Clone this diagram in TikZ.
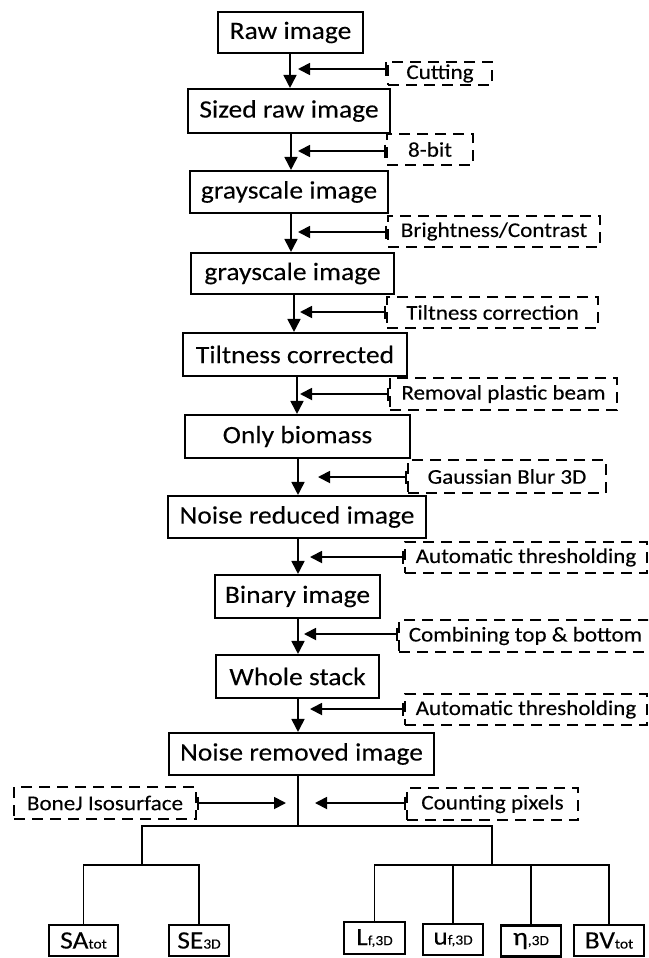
\documentclass[tikz,border=0pt]{standalone}
\usepackage{fontspec}
\setmainfont{Carlito}[FakeStretch=1.1,FakeBold=0.15]
\usetikzlibrary{arrows.meta}
\newcommand\MainF{\fontsize{25}{29}\selectfont}
\newcommand\DashF{\fontsize{21}{25}\selectfont}
\newcommand\SubF{\fontsize{14}{16}\selectfont}
\tikzset{
  mbox/.style={draw, line width=2.1pt, inner sep=0pt, font=\MainF},
  dbox/.style={draw, dash pattern=on 11pt off 7pt, line width=2.2pt, inner sep=0pt, font=\DashF},
  rbox/.style={draw, line width=2.1pt, inner sep=0pt, font=\MainF, minimum height=31pt},
  arr/.style={line width=1.8pt, -{Triangle[length=13pt,width=13pt]}},
  sarr/.style={line width=1.8pt, {Bar[width=13pt,line width=2pt]}-{Triangle[length=12pt,width=12pt]}},
  tree/.style={line width=1.6pt}
}
\begin{document}
\begin{tikzpicture}[x=1pt,y=-1pt]
\useasboundingbox (0,0) rectangle (648,958);
\clip (0,0) rectangle (648,958);
% main boxes
\node[mbox, minimum width=145pt, minimum height=41pt] (raw)   at (290.5,32.5) {Raw image};
\node[mbox, minimum width=202pt, minimum height=44pt] (sized) at (289,111)    {Sized raw image};
\node[mbox, minimum width=198pt, minimum height=42pt] (gray1) at (289,192)    {grayscale image};
\node[mbox, minimum width=203pt, minimum height=41pt] (gray2) at (292.5,273.5){grayscale image};
\node[mbox, minimum width=224pt, minimum height=43pt] (tcorr) at (295,354.5)  {Tiltness corrected};
\node[mbox, minimum width=225pt, minimum height=43pt] (bio)   at (297.5,436.5){Only biomass};
\node[mbox, minimum width=258pt, minimum height=42pt] (nred)  at (297,517)    {Noise reduced image};
\node[mbox, minimum width=165pt, minimum height=43pt] (bin)   at (297.5,596.5){Binary image};
\node[mbox, minimum width=163pt, minimum height=43pt] (whole) at (297.5,676.5){Whole stack};
\node[mbox, minimum width=265pt, minimum height=42pt] (nrem)  at (301.5,754)  {Noise removed image};
% dashed boxes
\node[dbox, minimum width=104pt, minimum height=23pt] (cut)    at (440,73.5)   {Cutting};
\node[dbox, minimum width=86pt,  minimum height=31pt] (bit)    at (430,149.5)  {8-bit};
\node[dbox, minimum width=212pt, minimum height=31pt] (bright) at (494,231.5)  {Brightness/Contrast};
\node[dbox, minimum width=211pt, minimum height=31pt] (tiltc)  at (492.5,312.5){Tiltness correction};
\node[dbox, minimum width=227pt, minimum height=32pt] (remv)   at (503.5,394)  {Removal plastic beam};
\node[dbox, minimum width=198pt, minimum height=33pt] (gauss)  at (507,476.5)  {Gaussian Blur 3D};
\node[dbox, minimum width=242pt, minimum height=31pt] (autoa)  at (526,557.5)  {Automatic thresholding};
\node[dbox, minimum width=253pt, minimum height=32pt] (comb)   at (525.5,636)  {Combining top \& bottom};
\node[dbox, minimum width=242pt, minimum height=31pt] (autob)  at (526,709.5)  {Automatic thresholding};
\node[dbox, minimum width=182pt, minimum height=32pt] (bonej)  at (105,803)    {BoneJ Isosurface};
\node[dbox, minimum width=171pt, minimum height=32pt] (count)  at (492.5,804)  {Counting pixels};
% result boxes
\node[rbox, minimum width=69pt] (sa)  at (83.5,940.5) {SA{\SubF tot}};
\node[rbox, minimum width=60pt] (se)  at (199,940.5)  {SE{\SubF 3D}};
\node[rbox, minimum width=61pt, minimum height=32pt] (lf)  at (374.5,938) {L{\SubF f,3D}};
\node[rbox, minimum width=60pt] (uf)  at (453,939.5)  {u{\SubF f,3D}};
\node[rbox, minimum width=60pt] (eta) at (531,941)    {η{\SubF ,3D}};
\node[rbox, minimum width=70pt] (bv)  at (609,940.5)  {BV{\SubF tot}};
% main arrows
\coordinate (m1) at (290,0);
\coordinate (m2) at (291,0);
\coordinate (m3) at (291,0);
\coordinate (m4) at (294,0);
\coordinate (m5) at (297,0);
\coordinate (m6) at (298,0);
\draw[arr] (raw.south -| m1)   -- (sized.north -| m1);
\draw[arr] (sized.south -| m2) -- (gray1.north -| m2);
\draw[arr] (gray1.south -| m3) -- (gray2.north -| m3);
\draw[arr] (gray2.south -| m4) -- (tcorr.north -| m4);
\draw[arr] (tcorr.south -| m5) -- (bio.north -| m5);
\draw[arr] (bio.south -| m6)   -- (nred.north -| m6);
\draw[arr] (nred.south -| m6)  -- (bin.north -| m6);
\draw[arr] (bin.south -| m6)   -- (whole.north -| m6);
\draw[arr] (whole.south -| m6) -- (nrem.north -| m6);
% side arrows
\coordinate (t1) at (298,69);
\coordinate (t2) at (298,151);
\coordinate (t3) at (298,232);
\coordinate (t4) at (300,312);
\coordinate (t5) at (300,394);
\coordinate (t6) at (318,477);
\coordinate (t7) at (310,557);
\coordinate (t8) at (304,634);
\coordinate (t9) at (310,709);
\coordinate (t10) at (286,803);
\coordinate (t11) at (315,803);
\draw[sarr] (cut.west |- t1) -- (t1);
\draw[sarr] (bit.west |- t2) -- (t2);
\draw[sarr] (bright.west |- t3) -- (t3);
\draw[sarr] (tiltc.west |- t4) -- (t4);
\draw[sarr] (remv.west |- t5) -- (t5);
\draw[sarr] (gauss.west |- t6) -- (t6);
\draw[sarr] (autoa.west |- t7) -- (t7);
\draw[sarr] (comb.west |- t8) -- (t8);
\draw[sarr] (autob.west |- t9) -- (t9);
\draw[sarr] (bonej.east |- t10) -- (t10);
\draw[sarr] (count.west |- t11) -- (t11);
% tree
\coordinate (j0) at (298,826);
\coordinate (jl) at (142,826);
\coordinate (jr) at (492,826);
\coordinate (jl2) at (142,865);
\coordinate (jr2) at (492,865);
\draw[tree] (nrem.south -| j0) -- (j0);
\draw[tree] (jl2) -- (jl) -- (jr) -- (jr2);
\draw[tree] (sa.north) |- (jl2) -| (se.north);
\draw[tree] (lf.north) |- (jr2) -| (bv.north);
\draw[tree] (uf.north) -- (uf.north |- jr2);
\draw[tree] (eta.north) -- (eta.north |- jr2);
\end{tikzpicture}
\end{document}
